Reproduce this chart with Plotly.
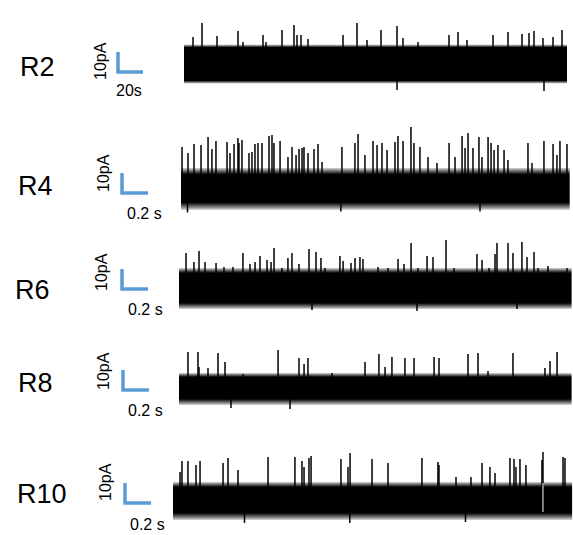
import plotly.graph_objects as go

W, H = 573, 535

# ---------------- data (time in s, current in pA relative to baseline) ----------------
row_names = ["R2", "R4", "R6", "R8", "R10"]
durations = [306.4, 2.99, 3.02, 3.02, 3.07]          # recording length shown
time_bar = [20, 0.2, 0.2, 0.2, 0.2]                  # horizontal scale bar
time_bar_text = ["20s", "0.2 s", "0.2 s", "0.2 s", "0.2 s"]
current_bar = [10, 10, 10, 10, 10]                   # vertical scale bar (pA)
current_bar_text = ["10pA"] * 5

# dense noise band (core) and its fuzzy edge
band_hi = [8.5, 7.0, 7.5, 6.5, 6.5]
band_lo = [-8.0, -7.0, -7.5, -4.5, -6.5]
fuzz_hi = [10.0, 10.3, 10.0, 8.5, 9.0]
fuzz_lo = [-9.5, -10.7, -10.5, -7.5, -10.0]

# upward openings (spikes): time, peak amplitude
R2_t = [7.2, 14.4, 26.4, 43.2, 47.2, 63.2, 65.6, 78.4, 88.0, 90.4, 93.6, 99.2, 127.2, 138.4,
        146.4, 157.6, 170.4, 175.2, 187.2, 212.0, 219.2, 226.4, 247.2, 259.2, 270.4, 276.0,
        280.0, 287.2, 295.2, 302.4]
R2_amp = [13.8, 20.8, 14.3, 16.8, 11.3, 14.8, 11.3, 17.3, 19.8, 14.8, 14.8, 12.8, 14.8, 20.8,
          12.3, 17.3, 19.3, 13.3, 11.3, 14.8, 16.3, 12.3, 14.8, 16.3, 15.3, 15.8,
          16.8, 13.3, 13.8, 17.3]
R2_down_t = [170.4, 288.0]
R2_down_amp = [-12.8, -13.3]

R4_t = [0.008, 0.054, 0.100, 0.154, 0.208, 0.238, 0.269, 0.354, 0.377, 0.408, 0.438, 0.446,
        0.469, 0.523, 0.546, 0.569, 0.592, 0.623, 0.677, 0.700, 0.715, 0.762, 0.823, 0.854,
        0.885, 0.908, 0.931, 0.946, 0.977, 1.023, 1.054, 1.085, 1.238, 1.338, 1.362, 1.415,
        1.477, 1.508, 1.546, 1.585, 1.646, 1.669, 1.708, 1.769, 1.792, 1.838, 1.900, 1.969,
        2.062, 2.108, 2.162, 2.185, 2.208, 2.246, 2.292, 2.315, 2.362, 2.385, 2.408, 2.438,
        2.485, 2.515, 2.669, 2.700, 2.792, 2.862, 2.892, 2.915, 2.969]
R4_amp = [20.8, 17.8, 22.3, 21.8, 25.8, 19.8, 23.8, 23.3, 17.8, 22.3, 25.3, 22.8,
          24.3, 17.8, 18.3, 22.3, 22.8, 22.8, 26.3, 26.8, 22.8, 23.8, 15.8, 20.8,
          16.8, 19.8, 20.3, 20.8, 17.8, 19.8, 22.3, 13.3, 20.8, 22.8, 27.3, 16.8,
          23.8, 21.8, 22.8, 19.3, 23.3, 26.3, 23.8, 30.8, 22.8, 20.8, 15.8, 12.8,
          22.8, 15.8, 26.3, 20.3, 27.8, 20.3, 25.8, 15.8, 25.8, 22.8, 19.3, 21.8,
          19.3, 14.3, 22.8, 12.8, 23.8, 22.3, 16.8, 23.8, 22.3]
R4_down_t = [0.05, 1.23, 2.30]
R4_down_amp = [-12.0, -11.5, -11.5]

R6_t = [0.054, 0.115, 0.154, 0.200, 0.285, 0.346, 0.415, 0.492, 0.546, 0.585, 0.623, 0.677,
        0.708, 0.731, 0.792, 0.838, 0.869, 0.923, 1.000, 1.054, 1.092, 1.123, 1.238, 1.262,
        1.323, 1.354, 1.392, 1.415, 1.531, 1.608, 1.685, 1.731, 1.785, 1.838, 1.908, 1.954,
        2.054, 2.115, 2.292, 2.331, 2.385, 2.431, 2.446, 2.531, 2.569, 2.638, 2.677, 2.731,
        2.762, 2.838, 2.985]
R6_amp = [17.5, 13.0, 18.5, 13.0, 12.5, 10.5, 10.5, 17.5, 12.0, 13.0, 16.0, 14.0,
          13.0, 20.0, 10.0, 15.0, 17.5, 12.0, 19.5, 18.0, 15.0, 10.0, 16.0, 13.5,
          12.5, 15.0, 15.5, 14.5, 10.5, 10.0, 14.5, 12.0, 22.5, 10.0, 16.0, 15.5,
          24.0, 10.0, 17.0, 14.0, 10.0, 17.0, 22.5, 22.5, 17.5, 23.0, 15.5, 18.0,
          10.0, 11.0, 10.0]
R6_down_t = [1.023, 1.831, 2.60]
R6_down_amp = [-11.0, -11.5, -10.5]

R8_t = [0.069, 0.146, 0.154, 0.223, 0.300, 0.354, 0.492, 0.762, 0.923, 0.962, 0.992, 1.177,
        1.431, 1.538, 1.585, 1.638, 1.738, 1.808, 1.962, 2.000, 2.223, 2.300, 2.377, 2.569,
        2.815, 2.854, 2.908]
R8_amp = [19.0, 19.0, 11.5, 11.0, 18.5, 14.0, 8.0, 20.0, 16.0, 13.0, 16.0, 8.5,
          14.0, 18.0, 11.5, 16.5, 16.0, 16.0, 16.5, 16.0, 18.0, 18.5, 9.5, 18.5,
          11.0, 14.5, 19.0]
R8_down_t = [0.40, 0.854]
R8_down_amp = [-9.0, -9.5]

R10_t = [0.054, 0.069, 0.115, 0.177, 0.208, 0.385, 0.423, 0.500, 0.731, 0.938, 0.992, 1.008,
         1.046, 1.062, 1.292, 1.346, 1.362, 1.531, 1.654, 1.915, 2.038, 2.046, 2.177, 2.292,
         2.377, 2.438, 2.477, 2.592, 2.623, 2.638, 2.669, 2.715, 2.838, 2.846, 3.000, 3.015]
R10_amp = [14.0, 19.5, 19.5, 17.5, 19.5, 18.5, 21.0, 15.0, 21.5, 21.5, 19.5, 16.5,
           21.0, 22.0, 20.5, 16.5, 23.5, 20.5, 18.5, 21.0, 19.0, 17.5, 11.5, 11.5,
           18.5, 16.5, 13.5, 21.0, 20.5, 16.5, 20.5, 17.5, 20.0, 24.0, 21.5, 21.0]
R10_down_t = [0.55, 1.36, 2.25]
R10_down_amp = [-11.5, -11.5, -11.0]
R10_gap_t = [2.846]
R10_gap_lo, R10_gap_hi = -6.0, 8.5

spike_t = [R2_t, R4_t, R6_t, R8_t, R10_t]
spike_amp = [R2_amp, R4_amp, R6_amp, R8_amp, R10_amp]
down_t = [R2_down_t, R4_down_t, R6_down_t, R8_down_t, R10_down_t]
down_amp = [R2_down_amp, R4_down_amp, R6_down_amp, R8_down_amp, R10_down_amp]

# ---------------- layout (pixels) ----------------
trace_x0 = [184, 181, 179, 179, 173]            # left edge of trace
sec_per_px = [0.8, 1 / 130, 1 / 130, 1 / 130, 1 / 130]
center_px = [64.5, 188.5, 288, 390, 500]
slot_px = [(0, 107), (107, 228), (228, 332), (332, 432), (432, 535)]
px_per_pA = 2.0
bar_px = [(118, 72), (122, 193), (122, 289), (123, 390), (125, 503)]
name_px = [(37, 67), (35, 186), (32, 290), (35, 383), (42, 494)]
pa_txt_px = [(100, 61), (103, 173), (101, 272), (103, 371), (105, 482)]
t_txt_px = [(129, 90), (144, 213), (145, 309), (145, 410), (147, 524)]

BLUE = "#5B9BD5"
FONT = "Liberation Sans, Arial, sans-serif"

fig = go.Figure()
annotations = []

for i, name in enumerate(row_names):
    ax = "" if i == 0 else str(i + 1)
    xa, ya = "x" + ax, "y" + ax
    x0, spp, c = trace_x0[i], sec_per_px[i], center_px[i]
    p1, p2 = slot_px[i]
    T = durations[i]

    # noise band with soft (fuzzy) edges
    fl, fh, bl, bh = fuzz_lo[i], fuzz_hi[i], band_lo[i], band_hi[i]
    span = fh - fl
    f1, f2 = (bl - fl) / span, (bh - fl) / span
    fig.add_trace(go.Scatter(
        x=[0, T, T, 0, 0], y=[fh, fh, fl, fl, fh], fill="toself", line=dict(width=0),
        fillgradient=dict(type="vertical", start=fl, stop=fh,
                          colorscale=[[0, "rgba(0,0,0,0.15)"], [f1 * 0.5, "rgba(0,0,0,0.6)"],
                                      [f1, "black"], [f2, "black"],
                                      [f2 + (1 - f2) * 0.5, "rgba(0,0,0,0.6)"], [1, "rgba(0,0,0,0.15)"]]),
        mode="lines", xaxis=xa, yaxis=ya, hoverinfo="skip"))
    # spikes
    sx, sy = [], []
    for t, a in zip(spike_t[i], spike_amp[i]):
        sx += [t, t, None]
        sy += [bh, a, None]
    for t, a in zip(down_t[i], down_amp[i]):
        sx += [t, t, None]
        sy += [bl, a, None]
    fig.add_trace(go.Scatter(x=sx, y=sy, mode="lines", line=dict(color="black", width=1.5),
                             xaxis=xa, yaxis=ya, hoverinfo="skip"))
    if name == "R10":
        gx, gy = [], []
        for t in R10_gap_t:
            gx += [t, t, None]
            gy += [R10_gap_lo, R10_gap_hi, None]
        fig.add_trace(go.Scatter(x=gx, y=gy, mode="lines", line=dict(color="white", width=1),
                                 xaxis=xa, yaxis=ya, hoverinfo="skip"))

    # scale bar
    bx, by = bar_px[i]
    bt = (bx - x0) * spp
    ba = (c - by) / px_per_pA
    fig.add_trace(go.Scatter(x=[bt, bt, bt + time_bar[i]], y=[ba + current_bar[i], ba, ba],
                             mode="lines", line=dict(color=BLUE, width=3.5),
                             xaxis=xa, yaxis=ya, hoverinfo="skip"))

    fig.layout["xaxis" + ax] = dict(domain=[0, 1], range=[-x0 * spp, (W - x0) * spp],
                                    visible=False, anchor=ya, fixedrange=True)
    fig.layout["yaxis" + ax] = dict(domain=[1 - p2 / H, 1 - p1 / H],
                                    range=[(c - p2) / px_per_pA, (c - p1) / px_per_pA],
                                    visible=False, anchor=xa, fixedrange=True)

    nx, ny = name_px[i]
    annotations.append(dict(text=name, x=nx / W, y=1 - ny / H, xref="paper", yref="paper",
                            showarrow=False, xanchor="center", yanchor="middle",
                            font=dict(size=27, color="black", family=FONT)))
    px_, py_ = pa_txt_px[i]
    annotations.append(dict(text=current_bar_text[i], x=px_ / W, y=1 - py_ / H, xref="paper", yref="paper",
                            showarrow=False, xanchor="center", yanchor="middle", textangle=-90,
                            font=dict(size=16, color="black", family=FONT)))
    tx, ty = t_txt_px[i]
    annotations.append(dict(text=time_bar_text[i], x=tx / W, y=1 - ty / H, xref="paper", yref="paper",
                            showarrow=False, xanchor="center", yanchor="middle",
                            font=dict(size=16, color="black", family=FONT)))

fig.update_layout(width=W, height=H, margin=dict(l=0, r=0, t=0, b=0),
                  paper_bgcolor="white", plot_bgcolor="white", showlegend=False,
                  annotations=annotations)

fig.write_html("out.html", config={"displayModeBar": False},
               post_script="document.body.style.margin='0';document.body.style.padding='0';")
